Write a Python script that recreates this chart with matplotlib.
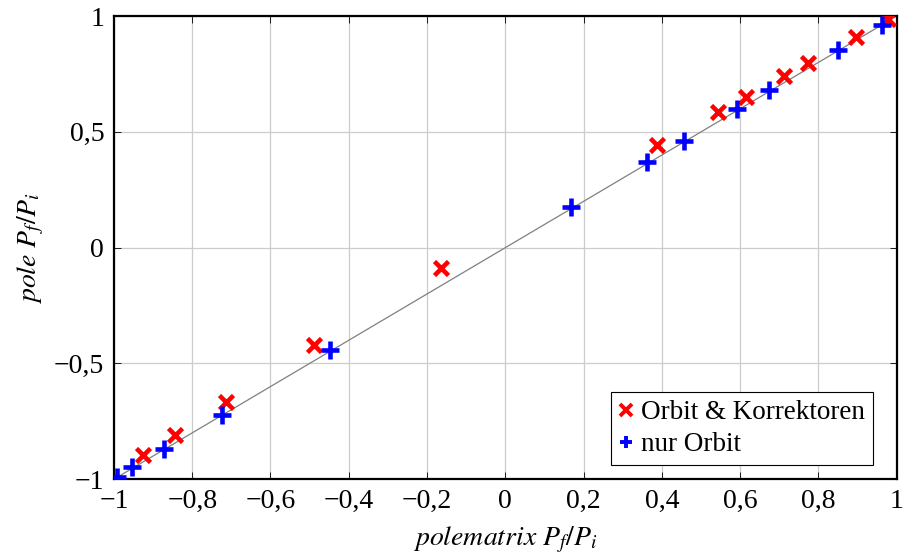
import numpy as np
import matplotlib.pyplot as plt
from matplotlib.ticker import FuncFormatter

plt.rcParams["font.family"] = ["Liberation Serif", "DejaVu Serif"]
plt.rcParams["mathtext.fontset"] = "stix"
plt.rcParams["axes.unicode_minus"] = True

# Orbit & Korrektoren
red_x = [-0.926, -0.845, -0.713, -0.490, -0.165, 0.388, 0.543, 0.614, 0.713, 0.772, 0.896, 0.977]
red_y = [-0.896, -0.810, -0.667, -0.421, -0.087, 0.443, 0.585, 0.650, 0.741, 0.797, 0.909, 0.987]

# nur Orbit
blue_x = [-0.992, -0.954, -0.873, -0.723, -0.447, 0.168, 0.363, 0.457, 0.591, 0.673, 0.850, 0.962]
blue_y = [-0.991, -0.948, -0.870, -0.723, -0.443, 0.175, 0.369, 0.460, 0.598, 0.680, 0.853, 0.961]

xticks = [-1, -0.8, -0.6, -0.4, -0.2, 0, 0.2, 0.4, 0.6, 0.8, 1]
yticks = [-1, -0.5, 0, 0.5, 1]


def fmt(v, pos):
    s = "%g" % round(v, 2)
    s = s.replace(".", ",").replace("-", "\u2212")
    return s


fig = plt.figure(figsize=(9.04, 5.54), dpi=100)
ax = fig.add_axes([0.126, 0.135, 0.866, 0.836])

ax.plot([-1, 1], [-1, 1], color="#808080", lw=0.9, zorder=2)
ax.plot(red_x, red_y, ls="none", marker="x", color="red", ms=9.5, mew=3.3,
        label="Orbit & Korrektoren", zorder=3)
ax.plot(blue_x, blue_y, ls="none", marker="+", color="blue", ms=12.5, mew=3.3,
        label="nur Orbit", zorder=3)

ax.set_xlim(-1, 1)
ax.set_ylim(-1, 1)
ax.set_xticks(xticks)
ax.set_yticks(yticks)
ax.xaxis.set_major_formatter(FuncFormatter(fmt))
ax.yaxis.set_major_formatter(FuncFormatter(fmt))
ax.tick_params(direction="in", top=True, right=True, length=5, width=0.6,
               labelsize=20, pad=7)
ax.grid(True, color="#cccccc", lw=0.9, zorder=0)
ax.set_axisbelow(True)
for sp in ax.spines.values():
    sp.set_linewidth(1.6)

ax.set_xlabel(r"$polematrix\ P_f/P_i$", fontsize=20, labelpad=8)
ax.set_ylabel(r"$pole\ P_f/P_i$", fontsize=20, labelpad=6)

leg = ax.legend(loc="lower right", bbox_to_anchor=(0.97, 0.03), fontsize=19.5,
                fancybox=False, framealpha=1, edgecolor="black",
                handlelength=0.5, handletextpad=0.3, borderpad=0.3,
                labelspacing=0.25, borderaxespad=0)
leg.get_frame().set_linewidth(0.8)
for h in leg.legend_handles:
    h.set_markersize(8)
    h.set_markeredgewidth(2.8)

fig.savefig("out.png", dpi=100)
